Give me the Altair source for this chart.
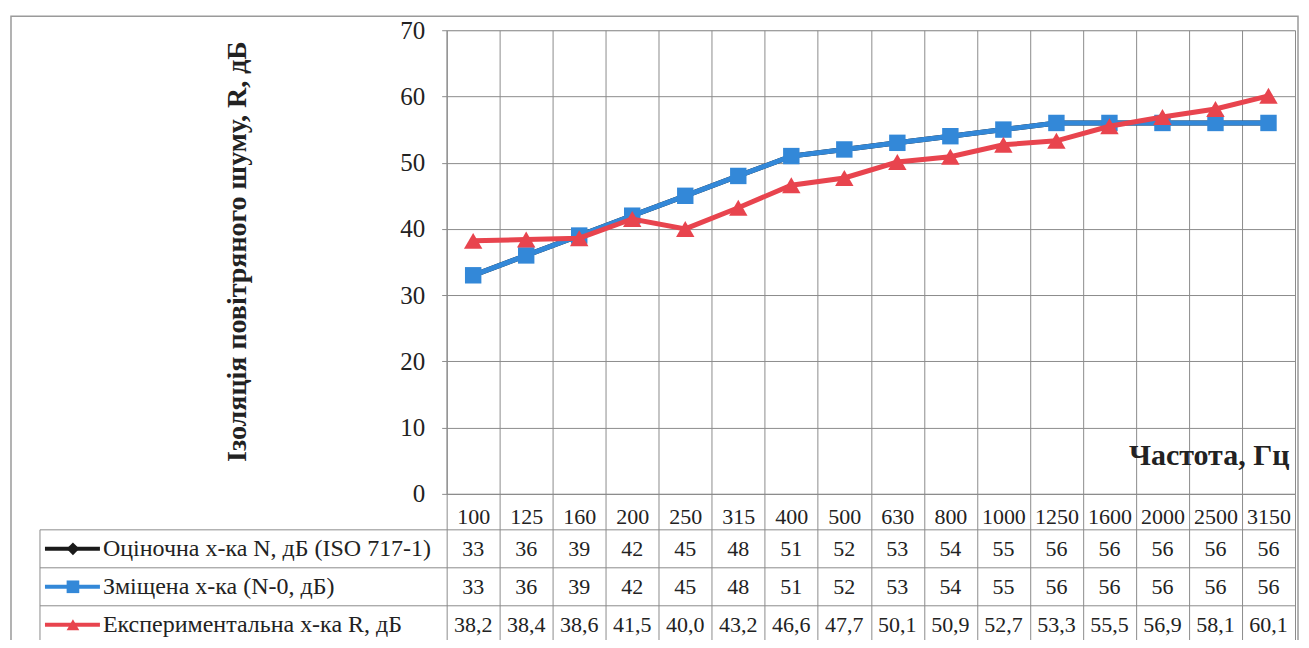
import altair as alt
import pandas as pd

# ---------------- data ----------------
freqs = ["100", "125", "160", "200", "250", "315", "400", "500",
         "630", "800", "1000", "1250", "1600", "2000", "2500", "3150"]
rating_N = [33, 36, 39, 42, 45, 48, 51, 52, 53, 54, 55, 56, 56, 56, 56, 56]
shifted_N0 = [33, 36, 39, 42, 45, 48, 51, 52, 53, 54, 55, 56, 56, 56, 56, 56]
experimental_R = [38.2, 38.4, 38.6, 41.5, 40.0, 43.2, 46.6, 47.7,
                  50.1, 50.9, 52.7, 53.3, 55.5, 56.9, 58.1, 60.1]
series_names = ["Оціночна х-ка N,  дБ (ISO 717-1)",
                "Зміщена х-ка (N-0, дБ)",
                "Експериментальна х-ка R, дБ"]
series_values = [rating_N, shifted_N0, experimental_R]
series_decimals = [0, 0, 1]
y_ticks = [0, 10, 20, 30, 40, 50, 60, 70]
y_title = "Ізоляція повітряного шуму, R, дБ"
x_title = "Частота, Гц"

# ---------------- style ----------------
series_colors = ["#1a1a1a", "#3388d8", "#e8444e"]
series_shapes = ["diamond", "square", "triangle-up"]
FONT = "'Liberation Serif', 'Times New Roman', Tinos, 'DejaVu Serif', serif"
GRID = "#8c8c8c"
TXT = "#222222"
W, H = 849, 464

rows = []
for name, vals, dec in zip(series_names, series_values, series_decimals):
    for f, v in zip(freqs, vals):
        lab = f"{v:.{dec}f}".replace(".", ",")
        rows.append({"freq": f, "series": name, "value": v, "label": lab})
df = pd.DataFrame(rows)
names_df = pd.DataFrame({"series": series_names})

color = alt.Color("series:N", scale=alt.Scale(domain=series_names, range=series_colors), legend=None)
shape = alt.Shape("series:N", scale=alt.Scale(domain=series_names, range=series_shapes), legend=None)
size = alt.Size("series:N", scale=alt.Scale(domain=series_names, range=[200, 340, 310]), legend=None)

x_axis = alt.Axis(
    title=x_title, titleFont=FONT, titleFontSize=30, titleFontWeight="bold", titleColor=TXT,
    titleAlign="right", titleBaseline="middle", titleX=W - 6, titleY=-38,
    labelFont=FONT, labelFontSize=22, labelColor=TXT, labelAngle=0, labelPadding=-133,
    tickSize=146, tickBand="extent", tickColor=GRID, tickWidth=1,
    grid=True, gridColor=GRID, gridWidth=1, domainColor=GRID, domainWidth=1,
)
x_enc = alt.X("freq:N", sort=freqs,
              scale=alt.Scale(domain=freqs, paddingInner=0, paddingOuter=0),
              axis=x_axis)

y_axis = alt.Axis(
    values=y_ticks, title=y_title, titleFont=FONT, titleFontSize=28, titleFontWeight="bold",
    titleColor=TXT, titleX=-209, titleY=221, titleBaseline="middle", titleAngle=-90,
    labelFont=FONT, labelFontSize=25, labelColor=TXT, labelPadding=17,
    tickSize=5, tickColor=GRID, grid=True, gridColor=GRID, gridWidth=1,
    domainColor=GRID,
)
y_enc = alt.Y("value:Q", scale=alt.Scale(domain=[0, 70], nice=False), axis=y_axis)

base = alt.Chart(df)
plot_layers = []
for name in series_names:
    sub = base.transform_filter(alt.datum.series == name)
    plot_layers.append(sub.mark_line(strokeWidth=5).encode(x=x_enc, y=y_enc, color=color))
    plot_layers.append(sub.mark_point(filled=True, opacity=1).encode(
        x=x_enc, y=y_enc, color=color, shape=shape, size=size))
plot = alt.layer(*plot_layers)

# ---------------- data table ----------------
row_scale = alt.Scale(domain=series_names, range=[500, 614], paddingInner=0, paddingOuter=0)
row_y = alt.Y("series:N", scale=row_scale, axis=None)
row_top = alt.Y("series:N", scale=row_scale, axis=None, bandPosition=0)

values_txt = base.mark_text(font=FONT, fontSize=22, color=TXT, baseline="middle").encode(
    x=x_enc, y=row_y, text="label:N")
row_lines = alt.Chart(names_df).mark_rule(color=GRID, strokeWidth=1).encode(
    y=row_top, x=alt.value(-407), x2=alt.value(W))
left_border = alt.Chart(names_df.head(1)).mark_rule(color=GRID, strokeWidth=1).encode(
    y=row_top, y2=alt.value(640), x=alt.value(-407))
key_lines = alt.Chart(names_df).mark_rule(strokeWidth=4).encode(
    y=row_y, x=alt.value(-402), x2=alt.value(-347), color=color)
key_points = alt.Chart(names_df).mark_point(filled=True, opacity=1, size=160).encode(
    y=row_y, x=alt.value(-374), color=color, shape=shape)
key_text = alt.Chart(names_df).mark_text(font=FONT, fontSize=24, color=TXT, align="left",
                                         baseline="middle").encode(
    y=row_y, x=alt.value(-344), text="series:N")
table = alt.layer(row_lines, left_border, values_txt, key_lines, key_points, key_text)

frame = alt.Chart(names_df.head(1)).mark_rect(fillOpacity=0, stroke="#9a9a9a", strokeWidth=1.5).encode(
    x=alt.value(-436), x2=alt.value(W + 3), y=alt.value(-14), y2=alt.value(700))

chart = alt.layer(frame, plot, table).resolve_scale(y="independent").properties(
    width=W, height=H,
    autosize=alt.AutoSizeParams(type="none"),
    padding={"left": 439, "top": 22, "right": 6, "bottom": 146},
).configure_view(stroke=GRID, strokeWidth=1).configure(background="white", font=FONT)

chart.save("out.html", embed_options={"renderer": "svg", "actions": False})
